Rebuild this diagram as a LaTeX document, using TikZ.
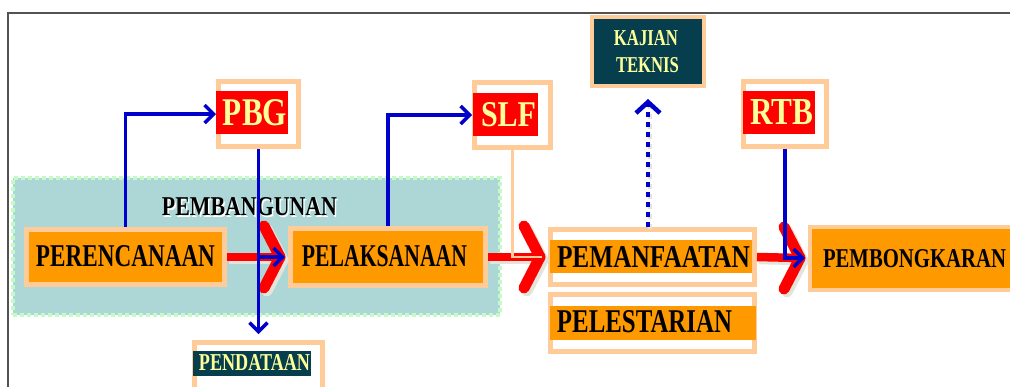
\documentclass[tikz,border=0pt]{standalone}
\usepackage{fontspec}
\setmainfont{Liberation Serif}
\usetikzlibrary{arrows.meta,calc}
\definecolor{orng}{HTML}{FF9900}
\definecolor{peach}{HTML}{FFCC99}
\definecolor{redc}{HTML}{FF0000}
\definecolor{yel}{HTML}{FFFF99}
\definecolor{dteal}{HTML}{063E4E}
\definecolor{clusfill}{HTML}{ADD6D6}
\definecolor{clusdash}{HTML}{C4FAC4}
\definecolor{bluec}{HTML}{0000CC}
\definecolor{shadec}{HTML}{E4E4DA}
\newcommand{\fitt}[3]{\resizebox{#1pt}{#2pt}{\bfseries #3}}
\tikzset{
  outerbox/.style={draw=peach, line width=5pt, inner sep=0pt, rectangle},
  innerrect/.style={inner sep=0pt, rectangle},
  txt/.style={inner sep=0pt},
  redshaft/.style={draw=redc, line width=8.5pt},
  chev/.style={draw=redc, line width=11pt, line cap=round, line join=round},
  shadeshaft/.style={draw=shadec, line width=8.5pt},
  shadechev/.style={draw=shadec, line width=11pt, line cap=round, line join=round},
  bluearrow/.style={draw=bluec, line width=3.4pt, -{Straight Barb[length=9pt,width=18pt]}},
  dotarrow/.style={draw=bluec, line width=4.5pt, dash pattern=on 5pt off 5pt, -{Straight Barb[length=11pt,width=24pt]}},
  dotshade/.style={draw=shadec, line width=4.5pt, dash pattern=on 5pt off 5pt},
  peachline/.style={draw=peach, line width=2.5pt},
}
\newcommand{\redarrow}[2]{%
  \draw[shadeshaft] ($(#1.east)+(2,3)$) -- ($(#2.west)+(-7,3)$);
  \draw[shadechev] ($(#2.west)+(-21,-28)$) -- ($(#2.west)+(-5,3)$) -- ($(#2.west)+(-21,34)$);
  \draw[redshaft] (#1.east) -- ($(#2.west)+(-8,0)$);
  \draw[chev] ($(#2.west)+(-24,-31)$) -- ($(#2.west)+(-8,0)$) -- ($(#2.west)+(-24,31)$);
}
\begin{document}
\begin{tikzpicture}[x=1pt,y=-1pt]
\clip (0,0) rectangle (1010,386);
\fill[white] (0,0) rectangle (1010,386);
% frame
\draw[draw=black!68, line width=2pt] (1015,13) -- (8,13) -- (8,391);
% cluster
\node[rectangle, fill=clusfill, draw=clusdash, line width=4pt, dash pattern=on 4pt off 3pt,
      minimum width=487pt, minimum height=137pt, inner sep=0pt] (clus) at (256,246) {};
\node[txt, text=white] (pembglow) at (251,209) {\fitt{175}{18}{PEMBANGUNAN}};
\node[txt] (pemb) at (249.5,207) {\fitt{175}{18}{PEMBANGUNAN}};
% process boxes
\node[outerbox, fill=orng, minimum width=198pt, minimum height=55pt] (perenc) at (125.5,257) {};
\node[txt] (perenct) at (125.5,256.5) {\fitt{179}{21}{PERENCANAAN}};
\node[outerbox, fill=orng, minimum width=195pt, minimum height=57pt] (pelak) at (388,257) {};
\node[txt] (pelakt) at (384.5,256.5) {\fitt{165}{21}{PELAKSANAAN}};
\node[outerbox, fill=white, minimum width=204pt, minimum height=55pt] (pemanf) at (652.5,257) {};
\node[innerrect, fill=orng, minimum width=202pt, minimum height=33pt] (pemanfin) at (651,256.5) {};
\node[txt] (pemanft) at (653.5,256.5) {\fitt{193}{21}{PEMANFAATAN}};
\node[outerbox, fill=white, minimum width=204pt, minimum height=57pt] (pelest) at (652.5,323) {};
\node[innerrect, fill=orng, minimum width=206pt, minimum height=34pt] (pelestin) at (653,323) {};
\node[txt] (pelestt) at (644.5,322) {\fitt{175}{22}{PELESTARIAN}};
\node[outerbox, line width=4pt, fill=orng, minimum width=218pt, minimum height=63pt] (pembong) at (919,258) {};
\node[txt] (pembongt) at (914.5,259) {\fitt{183}{18}{PEMBONGKARAN}};
% permit boxes
\node[outerbox, fill=white, minimum width=80pt, minimum height=65pt] (pbg) at (258.5,114) {};
\node[innerrect, fill=redc, minimum width=72pt, minimum height=43pt] (pbgin) at (252,112.5) {};
\node[txt, text=yel] (pbgt) at (255,113) {\fitt{64}{26}{PBG}};
\node[outerbox, fill=white, minimum width=76pt, minimum height=65pt] (slf) at (512.5,115) {};
\node[innerrect, fill=redc, minimum width=65pt, minimum height=43pt] (slfin) at (505.5,114.5) {};
\node[txt, text=yel] (slft) at (508.5,115) {\fitt{55}{24}{SLF}};
\node[outerbox, fill=white, minimum width=83pt, minimum height=65pt] (rtb) at (785,114) {};
\node[innerrect, fill=redc, minimum width=72pt, minimum height=43pt] (rtbin) at (779,112.5) {};
\node[txt, text=yel] (rtbt) at (781.5,112.5) {\fitt{63}{25}{RTB}};
\node[outerbox, line width=4pt, fill=dteal, minimum width=112pt, minimum height=69pt] (kaj) at (648,51.5) {};
\node[txt, text=yel] (kajt1) at (646,38.5) {\fitt{64}{15}{KAJIAN}};
\node[txt, text=yel] (kajt2) at (647.5,65.5) {\fitt{63}{15}{TEKNIS}};
\node[outerbox, fill=white, minimum width=128pt, minimum height=52pt] (pend) at (258.5,368.5) {};
\node[innerrect, fill=dteal, minimum width=118pt, minimum height=25pt] (pendin) at (252,363.5) {};
\node[txt, text=yel] (pendt) at (254.5,363) {\fitt{111}{16}{PENDATAAN}};
% red flow arrows
\redarrow{perenc}{pelak}
\redarrow{pelak}{pemanf}
\redarrow{pemanf}{pembong}
% SLF peach connector
\draw[peachline] (slf.south) |- ($(pemanf.west)+(-6,0)$);
% blue connectors
\draw[bluearrow] (perenc.north) |- (pbg.west);
\draw[bluearrow, shorten >=6pt] (pbg.south) -- (pbg.south |- pend.north);
\draw[bluearrow, shorten >=3pt] (pbg.south |- pelak.west) -- (pelak.west);
\draw[bluearrow] (pelak.north) |- (slf.west);
\draw[bluearrow, shorten >=3pt] (rtb.south) |- (pembong.west);
\draw[dotshade, shorten >=13pt] ($(kaj.south |- pemanf.north)+(2,2)$) -- ($(kaj.south)+(2,2)$);
\draw[dotarrow, shorten >=11pt] (kaj.south |- pemanf.north) -- (kaj.south);
\end{tikzpicture}
\end{document}
